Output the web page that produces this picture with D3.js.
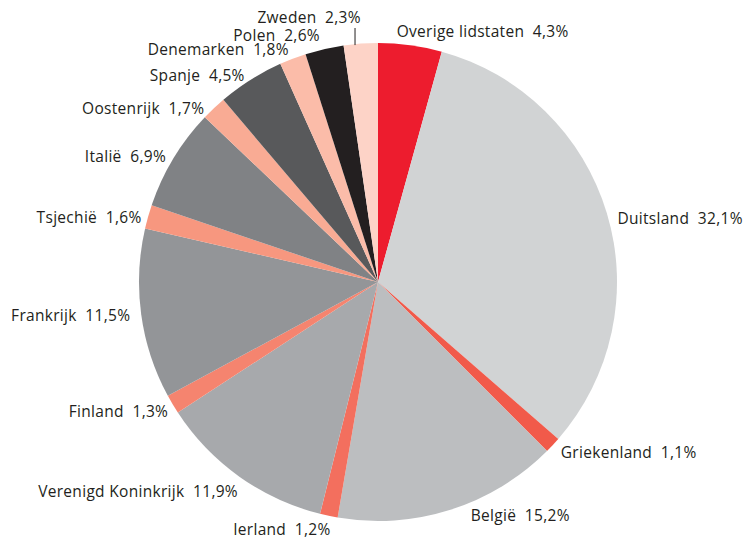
<!DOCTYPE html>
<html>
<head>
<meta charset="utf-8">
<script src="https://cdn.jsdelivr.net/npm/d3@7"></script>
<style>
  body { margin: 0; background: #fff; }
  text { font-family: "Open Sans", "Noto Sans", sans-serif; font-size: 15.5px; letter-spacing: 0.3px; fill: #231f20; }
</style>
</head>
<body>
<div id="chart"></div>
<script>
// share per country, clockwise from 12 o'clock
const countries = ["Overige lidstaten", "Duitsland", "Griekenland", "België", "Ierland",
  "Verenigd Koninkrijk", "Finland", "Frankrijk", "Tsjechië", "Italië", "Oostenrijk",
  "Spanje", "Denemarken", "Polen", "Zweden"];
const shares = [4.3, 32.1, 1.1, 15.2, 1.2, 11.9, 1.3, 11.5, 1.6, 6.9, 1.7, 4.5, 1.8, 2.6, 2.3];
const colours = ["#ed1c2e", "#d1d3d4", "#f15a4a", "#bcbec0", "#f36f5e", "#a7a9ac", "#f5846f",
  "#939598", "#f7977f", "#808285", "#f9ab94", "#58595b", "#fbbca9", "#231f20", "#fdd3c7"];

const width = 745, height = 540;
const cx = 378, cy = 282, radius = 239;

const data = countries.map((c, i) => ({ name: c, value: shares[i], colour: colours[i] }));

const svg = d3.select("#chart")
  .append("svg")
    .attr("width", width)
    .attr("height", height);

const g = svg.append("g")
  .attr("transform", "translate(" + cx + "," + cy + ")");

const pie = d3.pie()
  .value(d => d.value)
  .sort(null);

const arc = d3.arc()
  .innerRadius(0)
  .outerRadius(radius);

const arcs = pie(data);

g.selectAll("path")
  .data(arcs)
  .join("path")
    .attr("d", arc)
    .attr("fill", d => d.data.colour);

// labels sit just outside the rim, at the middle angle of each slice,
// with a few hand nudges like in the original
const fmt = v => d3.format(".1f")(v).replace(".", ",") + "%";
const labelR = 250;
const nudge = {
  "Overige lidstaten": [-15, -3], "Duitsland": [0, 9], "België": [17, -5],
  "Ierland": [4, 3], "Verenigd Koninkrijk": [5, 6], "Finland": [5, 2],
  "Tsjechië": [4, 4], "Italië": [2, 4], "Oostenrijk": [-2, 8], "Spanje": [0, 5],
  "Denemarken": [0, 1], "Polen": [-2, -3], "Zweden": [2, 0]
};

function labelPos(d) {
  const a = (d.startAngle + d.endAngle) / 2;
  let r = d.data.name == "Zweden" ? 265 : labelR;
  const n = nudge[d.data.name] || [0, 0];
  return [Math.sin(a) * r + n[0], -Math.cos(a) * r + n[1], a];
}

g.selectAll("text.lbl")
  .data(arcs)
  .join("text")
    .attr("class", "lbl")
    .attr("x", d => labelPos(d)[0])
    .attr("y", d => labelPos(d)[1])
    .attr("dy", "0.35em")
    .attr("text-anchor", d => labelPos(d)[2] < Math.PI ? "start" : "end")
    .text(d => d.data.name + "\u00a0 " + fmt(d.data.value));

// leader for Zweden
const zw = arcs[arcs.length - 1];
const za = (zw.startAngle + zw.endAngle) / 2 - 0.024;
const lx = Math.sin(za) * radius;
g.append("line")
  .attr("x1", lx)
  .attr("y1", -Math.cos(za) * radius + 1)
  .attr("x2", lx)
  .attr("y2", -254)
  .attr("stroke", "#231f20")
  .attr("stroke-width", 1);
</script>
</body>
</html>
